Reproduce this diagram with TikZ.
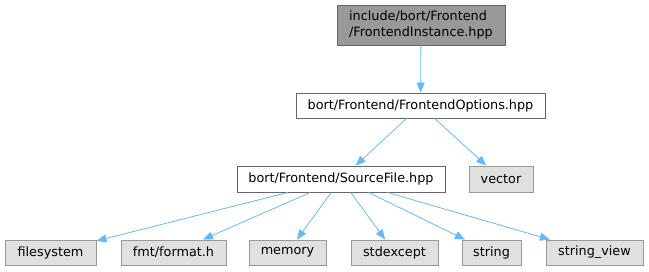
\documentclass[tikz,border=0pt]{standalone}
\usepackage{fontspec}
\setmainfont{DejaVu Sans}
\usetikzlibrary{arrows.meta}
\definecolor{edgeblue}{HTML}{63B8FF}
\definecolor{leaffill}{HTML}{E0E0E0}
\definecolor{leafdraw}{HTML}{999999}
\definecolor{mainfill}{HTML}{999999}
\definecolor{maindraw}{HTML}{666666}
\tikzset{
  box/.style={draw, line width=0.9pt, inner sep=0pt, font=\fontsize{12.8}{16.5}\selectfont},
  mainbox/.style={box, fill=mainfill, draw=maindraw},
  filebox/.style={box, fill=white, draw=maindraw},
  sysbox/.style={box, fill=leaffill, draw=leafdraw},
  dep/.style={draw=edgeblue, line width=0.8pt, -{Triangle[length=10pt,width=8pt]}, color=edgeblue},
}
\begin{document}
\begin{tikzpicture}[x=1pt, y=-1pt]
\useasboundingbox (0,0) rectangle (649,271);
% header under documentation
\node[mainbox, minimum width=168pt, minimum height=40pt, align=left] (top) at (421,25)
  {include/bort/Frontend\\/FrontendInstance.hpp};
% project headers
\node[filebox, minimum width=249pt, minimum height=25pt] (fo) at (420.5,105.5) {bort/Frontend/FrontendOptions.hpp};
\node[filebox, minimum width=208pt, minimum height=26pt] (sf) at (341,179) {bort/Frontend/SourceFile.hpp};
% system / external headers
\node[sysbox, minimum width=64pt, minimum height=26pt] (vec) at (501,179) {vector};
\node[sysbox, minimum width=91pt, minimum height=25pt] (fs) at (50.5,252.5) {filesystem};
\node[sysbox, minimum width=105pt, minimum height=25pt] (fmt) at (173.5,252.5) {fmt/format.h};
\node[sysbox, minimum width=77pt, minimum height=25pt] (mem) at (287.5,252.5) {memory};
\node[sysbox, minimum width=87pt, minimum height=25pt] (exc) at (394.5,252.5) {stdexcept};
\node[sysbox, minimum width=59pt, minimum height=25pt] (str) at (491.5,252.5) {string};
\node[sysbox, minimum width=97pt, minimum height=25pt] (sv) at (594.5,252.5) {string\_view};
% include edges
\draw[dep] (top) -- (fo);
\draw[dep] (fo) -- (sf);
\draw[dep] (fo) -- (vec);
\draw[dep] (sf) -- (fs);
\draw[dep] (sf) -- (fmt);
\draw[dep] (sf) -- (mem);
\draw[dep] (sf) -- (exc);
\draw[dep] (sf) -- (str);
\draw[dep] (sf) -- (sv);
\end{tikzpicture}
\end{document}
